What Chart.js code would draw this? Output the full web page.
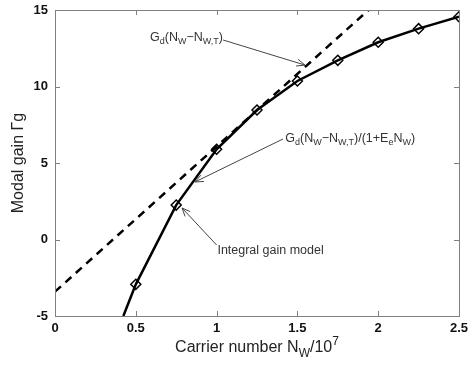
<!DOCTYPE html>
<html><head><meta charset="utf-8">
<script src="https://cdn.jsdelivr.net/npm/chart.js@4"></script>
<style>html,body{margin:0;padding:0;background:#fff}#wrap{width:469px;height:368px}</style>
</head><body><div id="wrap"><canvas id="c" width="469" height="368"></canvas></div>
<script>
// ---- data ----
const solidX = [0.423, 0.5, 0.75, 1.0, 1.25, 1.5, 1.75, 2.0, 2.25, 2.5];
const solidY = [-5.0, -2.93, 2.25, 5.9, 8.46, 10.36, 11.71, 12.89, 13.78, 14.56];
const solidMarker = [false, true, true, true, true, true, true, true, true, true];
const dashedX = [0, 1.94];
const dashedY = [-3.41, 15];
const xTicks = [0, 0.5, 1, 1.5, 2, 2.5];
const yTicks = [-5, 0, 5, 10, 15];
const xTickLabels = ['0', '0.5', '1', '1.5', '2', '2.5'];
const yTickLabels = ['-5', '0', '5', '10', '15'];
const annotations = [
  {text: [['G',0],['d',-1],['(N',0],['W',-1],['\u2212N',0],['W,T',-1],[')',0]], tx: 0.588, ty: 13.2, ax: [1.04, 13.04], ah: [1.547, 11.4]},
  {text: [['G',0],['d',-1],['(N',0],['W',-1],['\u2212N',0],['W,T',-1],[')/(1+E',0],['e',-1],['N',0],['W',-1],[')',0]], tx: 1.425, ty: 6.6, ax: [1.411, 6.57], ah: [0.866, 3.76]},
  {text: [['Integral gain model',0]], tx: 1.005, ty: -0.75, ax: [1.0, -0.36], ah: [0.786, 2.06]}
];

const FONT = '"Liberation Sans", Arial, sans-serif';

function drawRich(ctx, parts, x, y, size, color) {
  ctx.fillStyle = color;
  ctx.textBaseline = 'middle';
  ctx.textAlign = 'left';
  let cx = x;
  for (const [t, s] of parts) {
    const fs = s === 0 ? size : Math.round(size * 0.75);
    ctx.font = fs + 'px ' + FONT;
    const dy = s < 0 ? size * 0.35 : (s > 0 ? -size * 0.4 : 0);
    ctx.fillText(t, cx, y + dy);
    cx += ctx.measureText(t).width;
  }
  return cx - x;
}
function measureRich(ctx, parts, size) {
  let w = 0;
  for (const [t, s] of parts) {
    const fs = s === 0 ? size : Math.round(size * 0.75);
    ctx.font = fs + 'px ' + FONT;
    w += ctx.measureText(t).width;
  }
  return w;
}

const deco = {
  id: 'deco',
  afterDraw(chart) {
    const {ctx, scales: {x, y}, chartArea: a} = chart;
    ctx.save();
    ctx.strokeStyle = '#808080';
    ctx.lineWidth = 1;
    ctx.strokeRect(Math.round(a.left) + 0.5, Math.round(a.top) + 0.5, Math.round(a.right - a.left), Math.round(a.bottom - a.top));
    ctx.beginPath();
    xTicks.forEach(v => {
      const px = Math.round(x.getPixelForValue(v)) + 0.5;
      ctx.moveTo(px, a.bottom); ctx.lineTo(px, a.bottom - 5);
      ctx.moveTo(px, a.top); ctx.lineTo(px, a.top + 5);
    });
    yTicks.forEach(v => {
      const py = Math.round(y.getPixelForValue(v)) + 0.5;
      ctx.moveTo(a.left, py); ctx.lineTo(a.left + 5, py);
      ctx.moveTo(a.right, py); ctx.lineTo(a.right - 5, py);
    });
    ctx.stroke();
    annotations.forEach(an => {
      const tx = x.getPixelForValue(an.tx), ty = y.getPixelForValue(an.ty);
      drawRich(ctx, an.text, tx, ty, 12.5, '#333');
      const x0 = x.getPixelForValue(an.ax[0]), y0 = y.getPixelForValue(an.ax[1]);
      const x1 = x.getPixelForValue(an.ah[0]), y1 = y.getPixelForValue(an.ah[1]);
      ctx.strokeStyle = '#444';
      ctx.lineWidth = 1;
      ctx.beginPath(); ctx.moveTo(x0, y0); ctx.lineTo(x1, y1); ctx.stroke();
      const ang = Math.atan2(y1 - y0, x1 - x0);
      const L = 9, w = 0.4;
      ctx.beginPath();
      ctx.moveTo(x1 - L * Math.cos(ang - w), y1 - L * Math.sin(ang - w));
      ctx.lineTo(x1, y1);
      ctx.lineTo(x1 - L * Math.cos(ang + w), y1 - L * Math.sin(ang + w));
      ctx.stroke();
    });
    const parts = [['Carrier number N',0],['W',-1],['/10',0],['7',1]];
    const wT = measureRich(ctx, parts, 16);
    const cx = (a.left + a.right) / 2;
    drawRich(ctx, parts, cx - wT / 2, 348, 16, '#222');
    ctx.restore();
  }
};

const solidData = solidX.map((v, i) => ({x: v, y: solidY[i]}));
const dashedData = dashedX.map((v, i) => ({x: v, y: dashedY[i]}));

new Chart(document.getElementById('c'), {
  type: 'line',
  data: {
    datasets: [
      {data: dashedData, borderColor: '#000', borderWidth: 2.5, borderDash: [8, 6], pointRadius: 0, fill: false, tension: 0},
      {data: solidData, borderColor: '#000', borderWidth: 2.5, fill: false, tension: 0,
       pointStyle: 'rectRot', pointRadius: solidMarker.map(m => m ? 5 : 0),
       pointBorderColor: '#000', pointBackgroundColor: 'rgba(255,255,255,0)', pointBorderWidth: 1.5}
    ]
  },
  options: {
    responsive: false,
    animation: false,
    events: [],
    layout: {padding: {top: 10, right: 10, left: 0, bottom: 0}},
    plugins: {legend: {display: false}, tooltip: {enabled: false}},
    scales: {
      x: {
        type: 'linear', min: 0, max: 2.5,
        grid: {display: false, drawTicks: false},
        border: {display: false},
        afterBuildTicks: ax => { ax.ticks = xTicks.map(v => ({value: v})); },
        afterFit: ax => { ax.height = 52; ax.paddingLeft = 0; ax.paddingRight = 0; },
        ticks: {padding: 5, color: '#111', font: {family: FONT, size: 13, weight: 'bold'},
                callback: (v) => xTickLabels[xTicks.indexOf(v)], maxRotation: 0, autoSkip: false}
      },
      y: {
        min: -5, max: 15,
        grid: {display: false, drawTicks: false},
        border: {display: false},
        afterBuildTicks: ax => { ax.ticks = yTicks.map(v => ({value: v})); },
        afterFit: ax => { ax.width = 55; ax.paddingTop = 0; ax.paddingBottom = 0; },
        title: {display: true, text: 'Modal gain \u0393g', color: '#222', font: {family: FONT, size: 16}, padding: {top: 9, bottom: 0}},
        ticks: {padding: 7, color: '#111', font: {family: FONT, size: 13, weight: 'bold'},
                callback: (v) => yTickLabels[yTicks.indexOf(v)], autoSkip: false}
      }
    }
  },
  plugins: [deco]
});
</script>
</body></html>
